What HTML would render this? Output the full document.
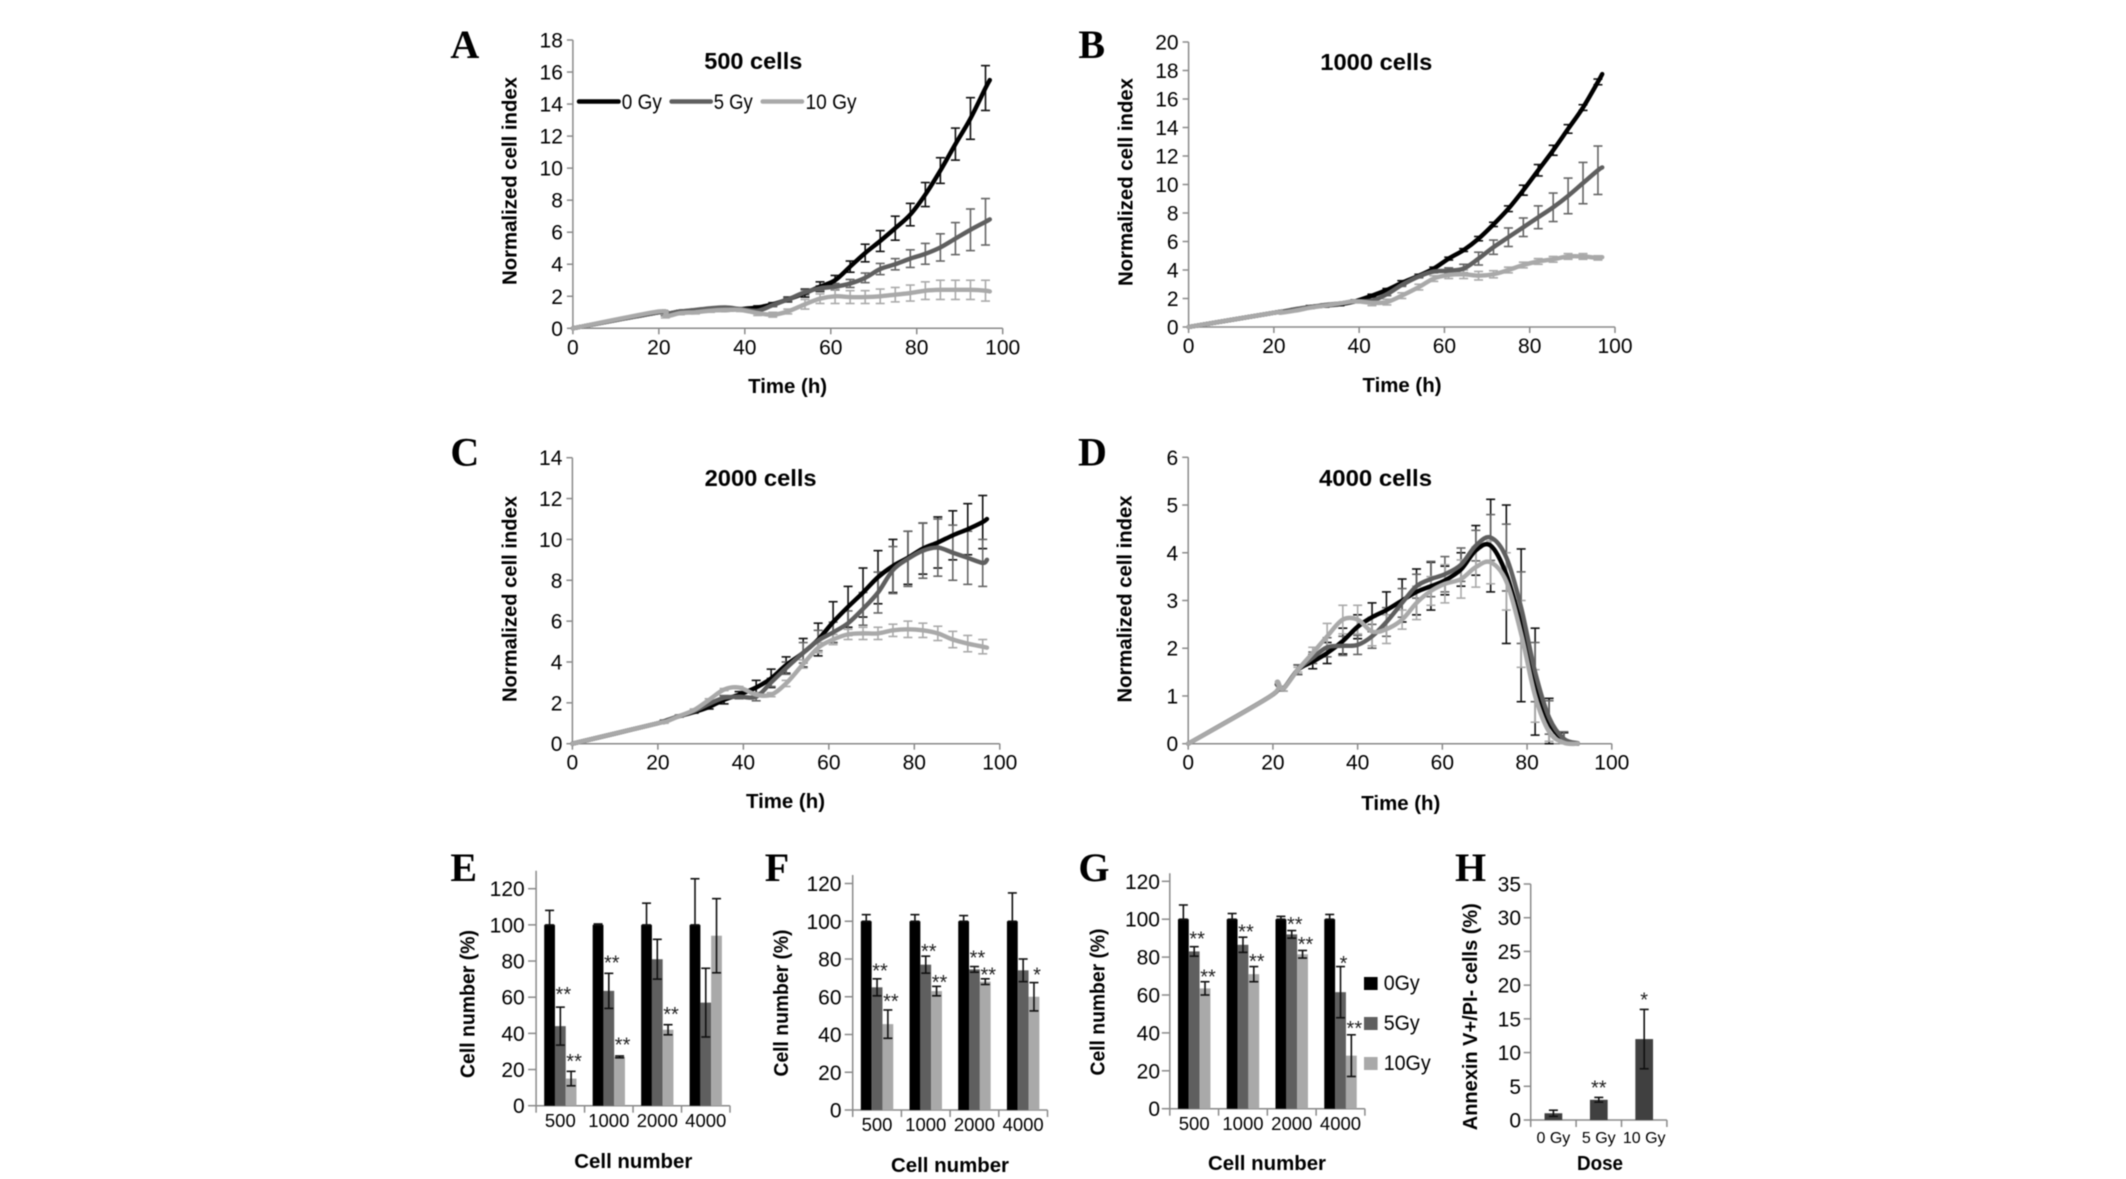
<!DOCTYPE html>
<html lang="en">
<head>
<meta charset="utf-8">
<title>Cell index and cell number panels</title>
<style>
html,body{margin:0;padding:0;background:#fff;width:2126px;height:1179px;overflow:hidden}
svg{display:block;filter:blur(.45px)}
text{font-family:"Liberation Sans",sans-serif;fill:#000}
.letter{font-family:"Liberation Serif",serif;font-weight:700;font-size:40px}
.title{font-weight:700;font-size:23px;text-anchor:middle}
.axt{font-weight:700;font-size:20px;text-anchor:middle}
.tick{font-size:21px}
.cat{font-size:18.5px;text-anchor:middle}
.star{font-size:20px;text-anchor:middle;fill:#222}
.leg{font-size:21px}
</style>
</head>
<body>
<svg xmlns="http://www.w3.org/2000/svg" width="2126" height="1179" viewBox="0 0 2126 1179">
<rect width="2126" height="1179" fill="#fff"/>

<g id="panel-a">
<text class="letter" x="450.4" y="58">A</text>
<text class="title" x="753.3" y="69" textLength="98" lengthAdjust="spacingAndGlyphs">500 cells</text>
<text class="axt" x="516.5" y="181" transform="rotate(-90 516.5 181)" textLength="208" lengthAdjust="spacingAndGlyphs">Normalized cell index</text>
<text class="axt" x="787.6" y="393" textLength="79" lengthAdjust="spacingAndGlyphs">Time (h)</text>
<line x1="579" y1="101.5" x2="618.6" y2="101.5" stroke="#000" stroke-width="4.5" stroke-linecap="round"/>
<text class="leg" x="621.8" y="109" textLength="40" lengthAdjust="spacingAndGlyphs">0 Gy</text>
<line x1="671.6" y1="101.5" x2="710.8" y2="101.5" stroke="#5f5f5f" stroke-width="4.5" stroke-linecap="round"/>
<text class="leg" x="713.7" y="109" textLength="39" lengthAdjust="spacingAndGlyphs">5 Gy</text>
<line x1="762.7" y1="101.5" x2="802" y2="101.5" stroke="#a9a9a9" stroke-width="4.5" stroke-linecap="round"/>
<text class="leg" x="805.5" y="109" textLength="51" lengthAdjust="spacingAndGlyphs">10 Gy</text>
</g>

<g id="panel-b">
<text class="letter" x="1078.4" y="58">B</text>
<text class="title" x="1376.3" y="70" textLength="112" lengthAdjust="spacingAndGlyphs">1000 cells</text>
<text class="axt" x="1132.3" y="182" transform="rotate(-90 1132.3 182)" textLength="208" lengthAdjust="spacingAndGlyphs">Normalized cell index</text>
<text class="axt" x="1402" y="392" textLength="79" lengthAdjust="spacingAndGlyphs">Time (h)</text>
</g>

<g id="panel-c">
<text class="letter" x="450.4" y="465.5">C</text>
<text class="title" x="760.6" y="486" textLength="112" lengthAdjust="spacingAndGlyphs">2000 cells</text>
<text class="axt" x="516.5" y="599" transform="rotate(-90 516.5 599)" textLength="206" lengthAdjust="spacingAndGlyphs">Normalized cell index</text>
<text class="axt" x="785.5" y="808" textLength="79" lengthAdjust="spacingAndGlyphs">Time (h)</text>
</g>

<g id="panel-d">
<text class="letter" x="1078" y="465.5">D</text>
<text class="title" x="1375.5" y="486" textLength="113" lengthAdjust="spacingAndGlyphs">4000 cells</text>
<text class="axt" x="1131.5" y="599" transform="rotate(-90 1131.5 599)" textLength="207" lengthAdjust="spacingAndGlyphs">Normalized cell index</text>
<text class="axt" x="1400.8" y="810" textLength="79" lengthAdjust="spacingAndGlyphs">Time (h)</text>
</g>

<g id="panel-e">
<text class="letter" x="450.4" y="881">E</text>
<text class="axt" x="474.6" y="1004" transform="rotate(-90 474.6 1004)" textLength="148" lengthAdjust="spacingAndGlyphs">Cell number (%)</text>
<text class="axt" x="633.3" y="1168" textLength="118" lengthAdjust="spacingAndGlyphs">Cell number</text>
</g>

<g id="panel-f">
<text class="letter" x="764.7" y="881">F</text>
<text class="axt" x="788" y="1003" transform="rotate(-90 788 1003)" textLength="147" lengthAdjust="spacingAndGlyphs">Cell number (%)</text>
<text class="axt" x="950" y="1172" textLength="118" lengthAdjust="spacingAndGlyphs">Cell number</text>
</g>

<g id="panel-g">
<text class="letter" x="1078.4" y="881">G</text>
<text class="axt" x="1104.6" y="1002" transform="rotate(-90 1104.6 1002)" textLength="147" lengthAdjust="spacingAndGlyphs">Cell number (%)</text>
<text class="axt" x="1267" y="1170" textLength="118" lengthAdjust="spacingAndGlyphs">Cell number</text>
<rect x="1364" y="977" width="13.6" height="13" fill="#000"/>
<text class="leg" x="1383.7" y="990" textLength="36" lengthAdjust="spacingAndGlyphs">0Gy</text>
<rect x="1364" y="1017" width="13.6" height="13" fill="#5f5f5f"/>
<text class="leg" x="1383.7" y="1030" textLength="36" lengthAdjust="spacingAndGlyphs">5Gy</text>
<rect x="1364" y="1057" width="13.6" height="13" fill="#a9a9a9"/>
<text class="leg" x="1383.7" y="1070" textLength="47" lengthAdjust="spacingAndGlyphs">10Gy</text>
</g>

<g id="panel-h">
<text class="letter" x="1455" y="881">H</text>
<text class="axt" x="1477" y="1016.7" transform="rotate(-90 1477 1016.7)" textLength="227" lengthAdjust="spacingAndGlyphs">Annexin V+/PI- cells (%)</text>
<text class="axt" x="1600" y="1170" textLength="46" lengthAdjust="spacingAndGlyphs">Dose</text>
</g>
</svg>

<script>
// ---- shared categories / ticks ----
const timeTicks = [0, 20, 40, 60, 80, 100];
const seriesNames = ['0gy', '5gy', '10gy'];
const cellCategories = ['500', '1000', '2000', '4000'];
const doseCategories = ['0 Gy', '5 Gy', '10 Gy'];
const yTicksA = [0, 2, 4, 6, 8, 10, 12, 14, 16, 18];
const yTicksB = [0, 2, 4, 6, 8, 10, 12, 14, 16, 18, 20];
const yTicksC = [0, 2, 4, 6, 8, 10, 12, 14];
const yTicksD = [0, 1, 2, 3, 4, 5, 6];
const yTicksE = [0, 20, 40, 60, 80, 100, 120];
const yTicksH = [0, 5, 10, 15, 20, 25, 30, 35];

// ---- time-course data ----
const timesABC = [0,20,21.5,25,28.5,32,35.5,39,43,46.5,50,54,57.5,61,64.5,68,71.5,75,78.5,82,85.5,89,92.5,96,97];
const timesD = [0,19.5,21,22.4,25.9,29.4,32.8,36.5,40,43.4,46.8,50.5,53.9,57.3,60.6,64.4,67.9,71.4,75.1,78.6,81.9,85.2,88.7,92];

const a0 = [0,1,.9,1.05,1.1,1.15,1.15,1.2,1.3,1.5,1.8,2.2,2.6,3,3.85,4.7,5.45,6.25,7.1,8.35,9.85,11.5,13.1,15,15.5];
const a0e = [0,0,.1,.05,.05,.05,.05,.05,.1,.1,.15,.25,.3,.3,.35,.55,.65,.75,.7,.75,.8,1,1.3,1.4,0];
const a5 = [0,1,.9,1.05,1.15,1.25,1.3,1.2,1.1,1.45,1.8,2.25,2.5,2.6,2.8,3.15,3.7,4,4.35,4.65,5.05,5.6,6.15,6.65,6.8];
const a5e = [0,0,.1,.05,.05,.05,.05,.05,.1,.1,.1,.15,.15,.2,.25,.3,.35,.35,.55,.65,.85,1,1.3,1.45,0];
const a10 = [0,1.05,.75,.95,1,1.1,1.15,1.15,.95,.85,1.05,1.5,1.85,2,1.95,1.95,2,2.1,2.2,2.35,2.4,2.4,2.4,2.35,2.3];
const a10e = [0,0,.1,.1,.1,.1,.1,.1,.15,.15,.15,.3,.3,.45,.4,.4,.45,.45,.5,.55,.6,.6,.6,.65,0];

const b0 = [0,1,1.05,1.2,1.4,1.5,1.6,1.8,2.2,2.6,3.1,3.6,4.1,4.8,5.4,6.2,7.2,8.3,9.6,11,12.4,13.9,15.4,17.2,17.75];
const b0e = [0,0,.05,.05,.1,.1,.1,.1,.1,.1,.15,.1,.1,.1,.1,.15,.15,.2,.35,.4,.35,.3,.2,.2,0];
const b5 = [0,1,1.05,1.25,1.4,1.55,1.65,1.8,1.85,2.3,2.95,3.55,3.9,3.95,4.1,4.8,5.6,6.3,7,7.7,8.4,9.2,10.1,11,11.2];
const b5e = [0,0,.05,.05,.05,.05,.05,.05,.1,.1,.1,.1,.1,.2,.3,.45,.5,.65,.65,.8,1,1.25,1.45,1.7,0];
const b10 = [0,1,1,1.15,1.35,1.5,1.65,1.8,1.7,1.75,2.2,2.8,3.4,3.65,3.7,3.6,3.7,4,4.35,4.6,4.75,4.95,4.95,4.85,4.9];
const b10e = [0,0,.05,.05,.05,.05,.05,.05,.2,.2,.2,.2,.2,.25,.3,.3,.25,.2,.2,.2,.2,.2,.2,.15,0];

const c0 = [0,1,1.1,1.35,1.55,1.8,2.15,2.4,2.75,3.2,3.85,4.45,5.1,5.95,6.7,7.4,8.15,8.7,9.1,9.55,9.85,10.2,10.5,10.85,11];
const c0e = [0,0,.05,.05,.05,.1,.2,.15,.35,.45,.4,.7,.8,1,1,1.2,1.3,1.3,1.3,1.25,1.25,1.2,1.25,1.3,0];
const c5 = [0,1,1.1,1.35,1.6,1.95,2.25,2.3,2.3,3,3.7,4.45,5.05,5.45,5.9,6.6,7.4,8.5,9.05,9.45,9.6,9.35,9.1,8.85,9];
const c5e = [0,0,.05,.05,.05,.05,.1,.1,.2,.2,.3,.5,.5,.5,.6,.8,1,1.15,1.35,1.35,1.4,1.35,1.3,1.15,0];
const c10 = [0,1,1.05,1.35,1.65,2.15,2.65,2.75,2.4,2.4,2.95,3.9,4.7,5.1,5.35,5.4,5.4,5.55,5.6,5.55,5.4,5.1,4.9,4.75,4.7];
const c10e = [0,0,.05,.05,.05,.05,.05,.05,.1,.1,.15,.2,.25,.25,.25,.3,.3,.3,.4,.35,.35,.4,.4,.35,0];

const d0 = [0,1,1.25,1.15,1.55,1.72,1.9,2.15,2.45,2.65,2.8,3,3.18,3.3,3.42,3.65,4.05,4.15,3.55,2.48,1.3,.45,.08,0];
const d0e = [0,0,0,.05,.1,.15,.22,.27,.25,.3,.38,.45,.48,.5,.3,.35,.52,.97,1.45,1.6,1.12,.5,.15,0];
const d5 = [0,1,1.25,1.15,1.55,1.8,2.02,2.05,2.07,2.25,2.55,2.95,3.3,3.45,3.55,3.75,4.15,4.32,3.9,2.85,1.5,.55,.1,.01];
const d5e = [0,0,0,.05,.1,.12,.2,.2,.2,.25,.3,.3,.25,.37,.37,.35,.32,.48,.7,.75,.62,.35,.15,0];
const d10 = [0,1,1.3,1.15,1.55,1.9,2.25,2.6,2.6,2.35,2.4,2.6,2.95,3.2,3.35,3.45,3.7,3.8,3.4,2.3,1,.25,.02,0];
const d10e = [0,0,0,.05,.05,.12,.27,.3,.3,.3,.3,.2,.35,.3,.4,.4,.42,.45,.6,.7,.55,.2,.05,0];

// ---- bar chart data ----
const e0 = [100,100,100,100], e0err = [8,.5,12,25.5];
const e5 = [44,63.5,81,57], e5err = [10.5,9.7,11,19];
const e10 = [15,27,42,94], e10err = [4,.5,2.8,20.5];
const eStars0 = ['','','','']; const eStars5 = ['**','**','','']; const eStars10 = ['**','**','**',''];
const eStarAt0 = [0,0,0,0]; const eStarAt5 = [64,81.5,0,0]; const eStarAt10 = [27,36,53,0];

const f0 = [100,100,100,100], f0err = [3.5,3.5,3,15];
const f5 = [65,77,74.5,74], f5err = [4.5,4.5,1.5,6];
const f10 = [45.5,63,68,60], f10err = [7.5,2.5,1.5,7.5];
const fStars0 = ['','','','']; const fStars5 = ['**','**','**','']; const fStars10 = ['**','**','**','*'];
const fStarAt0 = [0,0,0,0]; const fStarAt5 = [76,86.4,83,0]; const fStarAt10 = [60,70,74,74];

const g0 = [100,100,100,100], g0err = [7.5,3,1.5,2.5];
const g5 = [83,86.5,92,61.5], g5err = [2.5,4,2,13.5];
const g10 = [63.5,71,81.5,28], g10err = [3.5,4,2,11];
const gStars0 = ['','','','']; const gStars5 = ['**','**','**','*']; const gStars10 = ['**','**','**','**'];
const gStarAt0 = [0,0,0,0]; const gStarAt5 = [92,95.5,99.5,79]; const gStarAt10 = [72,80,89,44.7];

const hValues = [1,3,12], hErr = [.45,.35,4.4];
const hStars = ['','**','*'];
const hStarAt = [0,5.4,18.5];

// ---- drawing helpers ----
const NS = 'http://www.w3.org/2000/svg';
const AXIS = '#8a8a8a';
const COLORS = ['#000000', '#5f5f5f', '#a9a9a9'];

function svgEl(tag, attrs, parent) {
  const n = document.createElementNS(NS, tag);
  for (const k in attrs) n.setAttribute(k, attrs[k]);
  parent.appendChild(n);
  return n;
}

function linearScale(d0v, d1v, r0, r1) {
  return v => r0 + (v - d0v) * (r1 - r0) / (d1v - d0v);
}

function drawSegment(parent, x1, y1, x2, y2, stroke, width, name) {
  const s = svgEl('line', {x1, y1, x2, y2, stroke, 'stroke-width': width}, parent);
  
  
  return s;
}

function drawLabel(parent, x, y, str, cls, anchor, name) {
  const t = svgEl('text', {x, y, 'class': cls, 'text-anchor': anchor}, parent);
  t.textContent = str;
  
  
  return t;
}

function drawYAxis(parent, x, sy, ticks, topValue, tickLen, labelRight) {
  drawSegment(parent, x, sy(ticks[0]), x, sy(topValue), AXIS, 1.5, 'y-axis-line');
  ticks.forEach(t => {
    drawSegment(parent, x - tickLen, sy(t), x, sy(t), AXIS, 1.5, 'y-axis-tick');
    drawLabel(parent, labelRight, sy(t) + 7.5, String(t), 'tick', 'end', 'y-tick-label');
  });
}

function smoothPath(xs, ys) {
  let d = 'M' + xs[0] + ' ' + ys[0];
  for (let i = 0; i < xs.length - 1; i++) {
    const a = Math.max(i - 1, 0), b = Math.min(i + 2, xs.length - 1);
    const c1x = xs[i] + (xs[i + 1] - xs[a]) / 6, c1y = ys[i] + (ys[i + 1] - ys[a]) / 6;
    const c2x = xs[i + 1] - (xs[b] - xs[i]) / 6, c2y = ys[i + 1] - (ys[b] - ys[i]) / 6;
    d += 'C' + c1x + ' ' + c1y + ' ' + c2x + ' ' + c2y + ' ' + xs[i + 1] + ' ' + ys[i + 1];
  }
  return d;
}

function drawErrorBar(parent, x, yTop, yBot, color, cap, width, name) {
  const g = svgEl('g', {}, parent);
  
  
  drawSegment(g, x, yTop, x, yBot, color, width, 'error-stem');
  drawSegment(g, x - cap, yTop, x + cap, yTop, color, width, 'error-cap-top');
  drawSegment(g, x - cap, yBot, x + cap, yBot, color, width, 'error-cap-bottom');
}

function drawTimeChart(id, frame, yTicks, times, seriesList, errList) {
  const root = document.getElementById(id);
  const sx = linearScale(0, 100, frame.x0, frame.x1);
  const sy = linearScale(0, yTicks[yTicks.length - 1], frame.y0, frame.yTop);
  drawYAxis(root, frame.x0, sy, yTicks, yTicks[yTicks.length - 1], 6, frame.x0 - 10);
  drawSegment(root, frame.x0, frame.y0, frame.x1, frame.y0, AXIS, 1.5, 'x-axis-line');
  timeTicks.forEach(t => {
    drawSegment(root, sx(t), frame.y0, sx(t), frame.y0 + 6, AXIS, 1.5, 'x-axis-tick');
    drawLabel(root, sx(t), frame.y0 + 26, String(t), 'tick', 'middle', 'x-tick-label');
  });
  seriesList.forEach((vals, s) => {
    times.forEach((t, i) => {
      if (errList[s][i] > 0) {
        drawErrorBar(root, sx(t), sy(vals[i] + errList[s][i]), sy(Math.max(vals[i] - errList[s][i], 0)),
          s === 0 ? '#111' : s === 1 ? '#666' : '#aaa', 4.5, 1.6, 'error-bar-' + seriesNames[s]);
      }
    });
  });
  seriesList.forEach((vals, s) => {
    const p = svgEl('path', {
      d: smoothPath(times.map(sx), vals.map(sy)),
      fill: 'none', stroke: COLORS[s], 'stroke-width': 4.4,
      'stroke-linecap': 'round', 'stroke-linejoin': 'round'
    }, root);
    
    
  });
}

function drawBarChart(id, frame, yTicks, categories, seriesList, errList, starList, starAtList, colors, barFrac, tickLen) {
  const root = document.getElementById(id);
  const sy = linearScale(0, yTicks[yTicks.length - 1], frame.y0, frame.yTick);
  const band = (frame.x1 - frame.x0) / categories.length;
  const yMaxVal = (frame.y0 - frame.yTop) / (frame.y0 - frame.yTick) * yTicks[yTicks.length - 1];
  drawYAxis(root, frame.x0, sy, yTicks, yMaxVal, tickLen, frame.labelRight);
  drawSegment(root, frame.x0, frame.y0, frame.x1, frame.y0, AXIS, 1.5, 'x-axis-line');
  for (let i = 0; i <= categories.length; i++) {
    const tx = frame.x0 + i * band;
    drawSegment(root, tx, frame.y0, tx, frame.y0 + 7, AXIS, 1.5, 'x-axis-tick');
  }
  const barW = band * barFrac;
  const nSeries = seriesList.length;
  categories.forEach((cat, c) => {
    const groupLeft = frame.x0 + c * band + (band - barW * nSeries) / 2;
    seriesList.forEach((vals, s) => {
      const bx = groupLeft + s * barW, top = sy(vals[c]);
      const r = svgEl('rect', {x: bx, y: top, width: barW, height: frame.y0 - top, fill: colors[s]}, root);
      
      
    });
    seriesList.forEach((vals, s) => {
      const cx = groupLeft + (s + .5) * barW;
      const up = sy(vals[c] + errList[s][c]), low = sy(Math.max(vals[c] - errList[s][c], 0));
      drawErrorBar(root, cx, up, s === 0 && nSeries > 1 ? sy(vals[c]) : low, '#111', 4.5, 1.6, 'bar-error');
      if (starList[s][c]) {
        const shift = nSeries > 1 ? 3 : 0;
        drawLabel(root, cx + shift, sy(starAtList[s][c]) + 11, starList[s][c], 'star', 'middle', 'significance-marker');
      }
    });
    drawLabel(root, frame.x0 + (c + .5) * band, frame.catY, cat, 'cat', 'middle', 'category-label');
  });
}

// ---- charts ----
drawTimeChart('panel-a', {x0: 572.9, x1: 1002.7, y0: 328.3, yTop: 40}, yTicksA, timesABC, [a0, a5, a10], [a0e, a5e, a10e]);
drawTimeChart('panel-b', {x0: 1188.6, x1: 1615, y0: 327, yTop: 42}, yTicksB, timesABC, [b0, b5, b10], [b0e, b5e, b10e]);
drawTimeChart('panel-c', {x0: 572.4, x1: 999.8, y0: 743.7, yTop: 457.7}, yTicksC, timesABC, [c0, c5, c10], [c0e, c5e, c10e]);
drawTimeChart('panel-d', {x0: 1188.2, x1: 1611.8, y0: 743.7, yTop: 457.3}, yTicksD, timesD, [d0, d5, d10], [d0e, d5e, d10e]);

drawBarChart('panel-e', {x0: 536.1, x1: 730, y0: 1105.7, yTick: 888.7, yTop: 870.7, labelRight: 524.7, catY: 1127},
  yTicksE, cellCategories, [e0, e5, e10], [e0err, e5err, e10err], [eStars0, eStars5, eStars10], [eStarAt0, eStarAt5, eStarAt10], COLORS, .222, 8);
drawBarChart('panel-f', {x0: 852.7, x1: 1047.5, y0: 1110, yTick: 883.5, yTop: 875, labelRight: 841.5, catY: 1131},
  yTicksE, cellCategories, [f0, f5, f10], [f0err, f5err, f10err], [fStars0, fStars5, fStars10], [fStarAt0, fStarAt5, fStarAt10], COLORS, .222, 8);
drawBarChart('panel-g', {x0: 1169.8, x1: 1364.9, y0: 1108.7, yTick: 881.3, yTop: 873.3, labelRight: 1160, catY: 1130},
  yTicksE, cellCategories, [g0, g5, g10], [g0err, g5err, g10err], [gStars0, gStars5, gStars10], [gStarAt0, gStarAt5, gStarAt10], COLORS, .222, 8);
drawBarChart('panel-h', {x0: 1530.7, x1: 1666.9, y0: 1120, yTick: 884, yTop: 884, labelRight: 1521, catY: 1143},
  yTicksH, doseCategories, [hValues], [hErr], [hStars], [hStarAt], ['#404040'], .39, 7);
document.querySelectorAll('#panel-h .cat').forEach(t => { t.style.fontSize = '16px'; });
</script>
</body>
</html>
